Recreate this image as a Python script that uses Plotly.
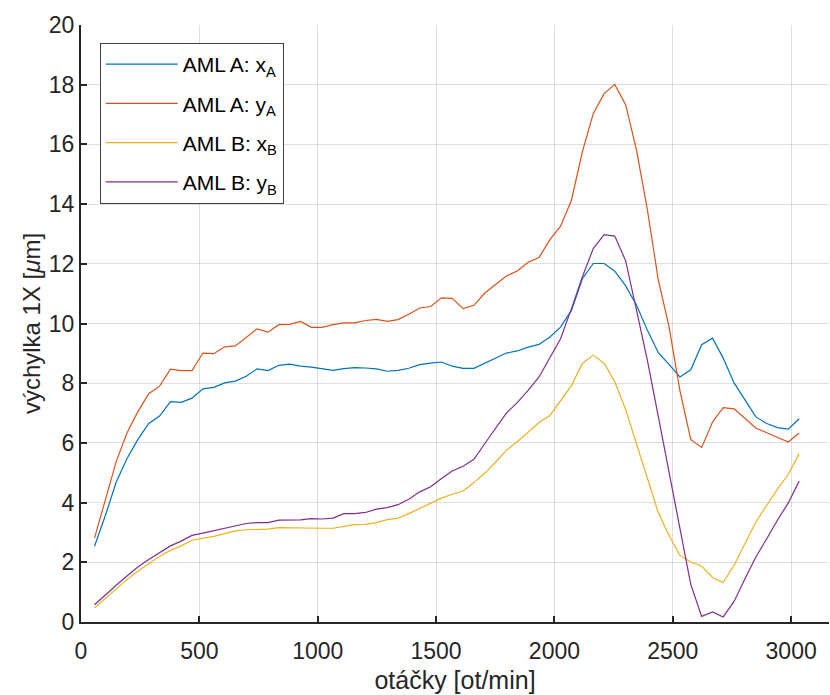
import plotly.graph_objects as go

rpm = [57, 103, 149, 194, 240, 286, 332, 378, 423, 469, 515, 561, 607, 652, 698, 744,
       790, 836, 881, 927, 973, 1019, 1065, 1110, 1156, 1202, 1248, 1294, 1339, 1385,
       1431, 1477, 1523, 1568, 1614, 1660, 1706, 1752, 1797, 1843, 1889, 1935, 1981,
       2026, 2072, 2118, 2164, 2210, 2255, 2301, 2347, 2393, 2439, 2484, 2530, 2576,
       2622, 2668, 2713, 2759, 2805, 2851, 2897, 2942, 2988, 3034]

xA = [2.54, 3.57, 4.69, 5.47, 6.11, 6.65, 6.90, 7.38, 7.36, 7.50, 7.81, 7.86, 8.01, 8.07,
      8.23, 8.48, 8.42, 8.60, 8.64, 8.57, 8.54, 8.48, 8.43, 8.49, 8.52, 8.51, 8.48, 8.40,
      8.43, 8.50, 8.62, 8.67, 8.71, 8.57, 8.50, 8.50, 8.68, 8.84, 9.01, 9.08, 9.21, 9.30,
      9.55, 9.88, 10.44, 11.50, 12.01, 12.01, 11.75, 11.26, 10.61, 9.77, 9.02, 8.63, 8.21,
      8.45, 9.29, 9.51, 8.84, 8.01, 7.43, 6.87, 6.65, 6.51, 6.46, 6.81]

yA = [2.81, 4.08, 5.38, 6.33, 7.04, 7.65, 7.90, 8.47, 8.42, 8.42, 9.01, 8.99, 9.22, 9.25,
      9.55, 9.82, 9.71, 9.96, 9.97, 10.07, 9.87, 9.87, 9.96, 10.02, 10.02, 10.10, 10.14,
      10.07, 10.13, 10.31, 10.52, 10.57, 10.86, 10.84, 10.50, 10.61, 11.02, 11.30, 11.59,
      11.76, 12.05, 12.21, 12.81, 13.26, 14.13, 15.75, 17.03, 17.70, 18.01, 17.33, 15.80,
      13.80, 11.45, 9.90, 7.76, 6.11, 5.85, 6.70, 7.18, 7.14, 6.83, 6.50, 6.34, 6.18,
      6.03, 6.33]

xB = [0.47, 0.78, 1.12, 1.42, 1.70, 1.96, 2.20, 2.40, 2.55, 2.74, 2.80, 2.87, 2.96, 3.05,
      3.09, 3.11, 3.11, 3.16, 3.15, 3.14, 3.14, 3.14, 3.14, 3.21, 3.26, 3.27, 3.33, 3.43,
      3.48, 3.63, 3.80, 3.97, 4.15, 4.28, 4.39, 4.67, 4.99, 5.36, 5.75, 6.04, 6.37, 6.68,
      6.92, 7.43, 7.92, 8.66, 8.94, 8.67, 8.05, 7.12, 5.98, 4.80, 3.66, 2.90, 2.23, 2.01,
      1.87, 1.49, 1.32, 1.90, 2.65, 3.35, 3.91, 4.45, 4.95, 5.64]

yB = [0.58, 0.89, 1.23, 1.54, 1.84, 2.09, 2.33, 2.55, 2.71, 2.90, 2.98, 3.06, 3.16, 3.23,
      3.30, 3.33, 3.33, 3.41, 3.42, 3.42, 3.46, 3.45, 3.48, 3.63, 3.63, 3.67, 3.78, 3.83,
      3.93, 4.11, 4.36, 4.53, 4.81, 5.06, 5.22, 5.45, 5.98, 6.50, 7.00, 7.35, 7.76, 8.21,
      8.88, 9.49, 10.50, 11.56, 12.51, 12.98, 12.93, 12.10, 10.44, 8.76, 6.88, 5.00, 3.14,
      1.26, 0.19, 0.34, 0.17, 0.69, 1.45, 2.18, 2.79, 3.41, 3.99, 4.72]

names = ["AML A: x<sub>A</sub>", "AML A: y<sub>A</sub>",
         "AML B: x<sub>B</sub>", "AML B: y<sub>B</sub>"]
colors = ["#0072BD", "#D95319", "#EDB120", "#7E2F8E"]
series = [xA, yA, xB, yB]

fig = go.Figure()
for i, (nm, col, vals) in enumerate(zip(names, colors, series)):
    fig.add_trace(go.Scatter(x=rpm, y=vals, mode="lines", name=nm,
                             legendgroup=str(i),
                             line=dict(color=col, width=1.2)))

axis_col = "#262626"
grid_col = "rgba(38,38,38,0.15)"
font = "Liberation Sans, Arial, sans-serif"

fig.update_layout(
    width=830, height=695,
    margin=dict(l=81, r=1, t=25, b=73),
    paper_bgcolor="white", plot_bgcolor="white",
    font=dict(family=font, size=23, color=axis_col),
    showlegend=True,
    legend=dict(x=0.025, y=0.97, xanchor="left", yanchor="top",
                bgcolor="white", bordercolor="#404040", borderwidth=1,
                font=dict(family=font, size=21, color="black"),
                tracegroupgap=9, itemwidth=72),
    xaxis=dict(range=[0, 3160], tickvals=[0, 500, 1000, 1500, 2000, 2500, 3000],
               showgrid=True, gridcolor=grid_col, gridwidth=1,
               showline=True, linecolor=axis_col, linewidth=2,
               ticks="inside", ticklen=6, tickcolor=axis_col, tickwidth=2,
               zeroline=False, mirror=False, ticklabelstandoff=7,
               title=dict(text="otáčky [ot/min]", font=dict(size=25), standoff=9),
               tickfont=dict(size=23)),
    yaxis=dict(range=[0, 20], tickvals=list(range(0, 21, 2)),
               showgrid=True, gridcolor=grid_col, gridwidth=1,
               showline=True, linecolor=axis_col, linewidth=2,
               ticks="inside", ticklen=6, tickcolor=axis_col, tickwidth=2,
               zeroline=False, mirror=False,
               title=dict(text="výchylka 1X [<i>μ</i>m]", font=dict(size=24), standoff=1),
               tickfont=dict(size=23)),
)

fig.write_html("out.html")
